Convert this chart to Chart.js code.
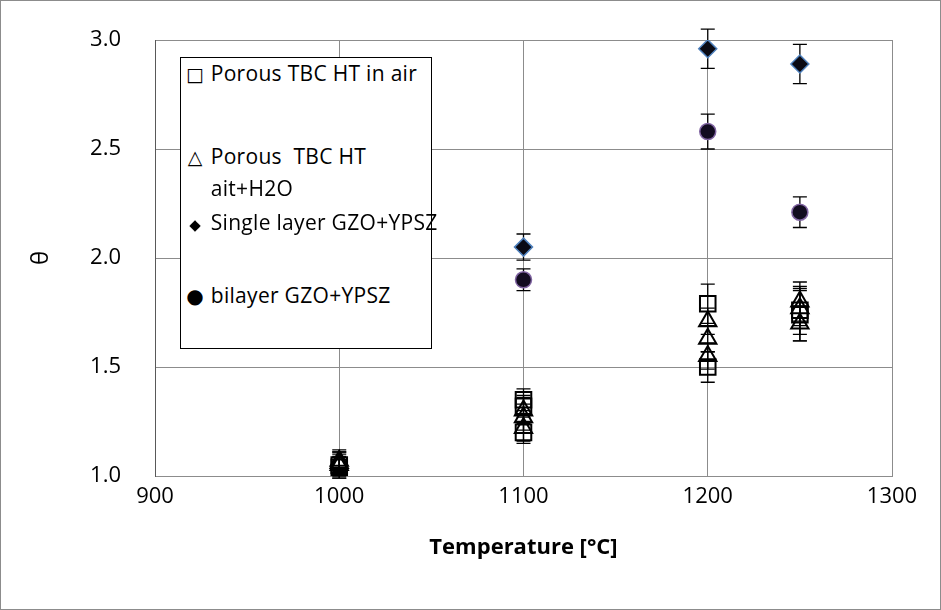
<!DOCTYPE html>
<html>
<head>
<meta charset="utf-8">
<script src="https://cdn.jsdelivr.net/npm/chart.js@4"></script>
<style>
  html, body { margin: 0; padding: 0; background: #fff; }
  #wrap { position: relative; width: 941px; height: 610px; }
  #frame { position: absolute; left: 0; top: 0; width: 941px; height: 610px; box-sizing: border-box; border: 1px solid #8c8c8c; pointer-events: none; }
  #legend {
    position: absolute; left: 180px; top: 57px; width: 252px; height: 292px;
    border: 1px solid #000; background: #fff; box-sizing: border-box;
    font-family: "Open Sans", "Liberation Sans", sans-serif; font-size: 21px; color: #000;
    letter-spacing: 0.3px;
  }
  #legend div { position: absolute; left: 4px; white-space: pre; line-height: 28px; }
  .sym { display: inline-block; width: 20px; text-align: center; font-family: "DejaVu Sans", sans-serif; font-size: 19px; letter-spacing: 0; color: #000; }
</style>
</head>
<body>
<div id="wrap">
  <canvas id="myChart-Theta" width="941" height="610"></canvas>
  <div id="frame"></div>
  <div id="legend">
    <div style="top:1px"><span class="sym">□</span> Porous TBC HT in air</div>
    <div style="top:84px"><span class="sym">△</span> Porous  TBC HT</div>
    <div style="top:116px"><span class="sym"></span> ait+H2O</div>
    <div style="top:150px"><span class="sym" style="font-size:15px">◆</span> Single layer GZO+YPSZ</div>
    <div style="top:223px"><span class="sym" style="font-size:20px">●</span> bilayer GZO+YPSZ</div>
  </div>
</div>
<script>
// Porous TBC HT in air (squares)
const airX = [1000, 1000, 1100, 1100, 1100, 1200, 1200, 1250, 1250];
const airY = [1.05, 1.04, 1.35, 1.32, 1.20, 1.79, 1.50, 1.76, 1.74];
const airErr = [0.06, 0.05, 0.05, 0.05, 0.05, 0.09, 0.07, 0.11, 0.12];

// Porous TBC HT air+H2O (triangles)
const wetX = [1000, 1000, 1000, 1100, 1100, 1100, 1200, 1200, 1200, 1250, 1250, 1250];
const wetY = [1.05, 1.06, 1.07, 1.30, 1.27, 1.22, 1.71, 1.63, 1.55, 1.80, 1.77, 1.70];
const wetErr = [0.05, 0.05, 0.05, 0.06, 0.06, 0.06, 0.06, 0.06, 0.06, 0.09, 0.08, 0.08];

// Single layer GZO+YPSZ (diamonds)
const singleX = [1100, 1200, 1250];
const singleY = [2.05, 2.96, 2.89];
const singleErr = [0.06, 0.09, 0.09];

// bilayer GZO+YPSZ (circles)
const bilayerX = [1100, 1200, 1250];
const bilayerY = [1.90, 2.58, 2.21];
const bilayerErr = [0.05, 0.08, 0.07];

const xTicks = [900, 1000, 1100, 1200, 1300];
const yTicks = [1.0, 1.5, 2.0, 2.5, 3.0];

function pts(xs, ys, es) {
  return xs.map((x, i) => ({ x: x, y: ys[i], err: es[i] }));
}

// vertical error bars with caps, drawn under the markers
const errorBars = {
  id: 'errorBars',
  beforeDatasetsDraw(chart) {
    const { ctx, scales: { x, y } } = chart;
    ctx.save();
    ctx.strokeStyle = '#000';
    ctx.lineWidth = 1.3;
    chart.data.datasets.forEach(ds => {
      ds.data.forEach(p => {
        const px = x.getPixelForValue(p.x);
        const top = y.getPixelForValue(p.y + p.err);
        const bot = y.getPixelForValue(p.y - p.err);
        ctx.beginPath();
        ctx.moveTo(px, top); ctx.lineTo(px, bot);
        ctx.moveTo(px - 7, top); ctx.lineTo(px + 7, top);
        ctx.moveTo(px - 7, bot); ctx.lineTo(px + 7, bot);
        ctx.stroke();
      });
    });
    ctx.restore();
  }
};

const font = { family: '"Open Sans", "Liberation Sans", sans-serif', size: 22 };

new Chart(document.getElementById('myChart-Theta'), {
  type: 'scatter',
  data: {
    datasets: [
      {
        label: 'Porous TBC HT in air',
        data: pts(airX, airY, airErr),
        pointStyle: 'rect',
        pointRadius: 11,
        borderWidth: 2,
        borderColor: '#000',
        backgroundColor: 'rgba(255,255,255,0)'
      }, {
        label: 'Porous  TBC HT ait+H2O',
        data: pts(wetX, wetY, wetErr),
        pointStyle: 'triangle',
        pointRadius: 10,
        borderWidth: 2,
        borderColor: '#000',
        backgroundColor: 'rgba(255,255,255,0)'
      }, {
        label: 'Single layer GZO+YPSZ',
        data: pts(singleX, singleY, singleErr),
        pointStyle: 'rectRot',
        pointRadius: 9,
        borderWidth: 1.5,
        borderColor: '#4f81bd',
        backgroundColor: '#0a0a14'
      }, {
        label: 'bilayer GZO+YPSZ',
        data: pts(bilayerX, bilayerY, bilayerErr),
        pointStyle: 'circle',
        pointRadius: 8,
        borderWidth: 1.5,
        borderColor: '#8064a2',
        backgroundColor: '#120c20'
      }]
  },
  options: {
    responsive: false,
    animation: false,
    layout: { padding: { top: 40, right: 49, left: 0, bottom: 49 } },
    plugins: { legend: { display: false }, tooltip: { enabled: false } },
    scales: {
      x: {
        type: 'linear',
        min: 900, max: 1300,
        afterBuildTicks: s => { s.ticks = xTicks.map(v => ({ value: v })); },
        afterFit: s => { s.height = 85; },
        grid: { color: '#8c8c8c', lineWidth: 1, drawTicks: false },
        border: { color: '#8c8c8c' },
        ticks: { color: '#000', font: font, padding: 8, maxRotation: 0, callback: v => String(v) },
        title: { display: true, text: 'Temperature [°C]', color: '#000', font: { family: font.family, size: 22, weight: 'bold' }, padding: { top: 6, bottom: 0 } }
      },
      y: {
        min: 1.0, max: 3.0,
        afterBuildTicks: s => { s.ticks = yTicks.map(v => ({ value: v })); },
        // keep the label gap from pushing the plot area down
        afterFit: s => { s.width = 155; s.paddingTop = 13; s.paddingBottom = 13; },
        grid: { color: '#8c8c8c', lineWidth: 1, drawTicks: false },
        border: { color: '#595959' },
        ticks: { color: '#000', font: font, padding: 34, callback: v => v.toFixed(1) },
        title: { display: true, text: 'θ', color: '#000', font: { family: font.family, size: 24 }, padding: { top: 27, bottom: 0 } }
      }
    }
  },
  plugins: [errorBars]
});
</script>
</body>
</html>
